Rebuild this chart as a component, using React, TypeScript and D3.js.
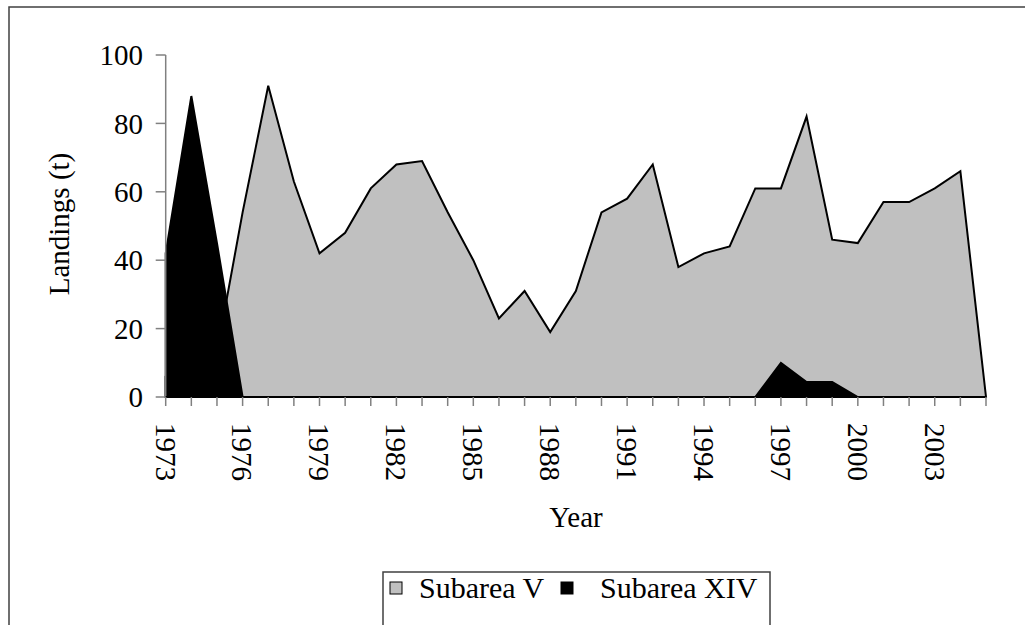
import React from "react";
import * as d3 from "d3";

const years: number[] = [
  1973, 1974, 1975, 1976, 1977, 1978, 1979, 1980, 1981, 1982, 1983, 1984, 1985,
  1986, 1987, 1988, 1989, 1990, 1991, 1992, 1993, 1994, 1995, 1996, 1997, 1998,
  1999, 2000, 2001, 2002, 2003, 2004, 2005,
];
const subareaV: number[] = [
  6, 10, 13, 54, 91, 63, 42, 48, 61, 68, 69, 54, 40, 23, 31, 19, 31, 54, 58, 68,
  38, 42, 44, 61, 61, 82, 46, 45, 57, 57, 61, 66, 0,
];
const subareaXIV: number[] = [
  42, 88, 45, 0, 0, 0, 0, 0, 0, 0, 0, 0, 0, 0, 0, 0, 0, 0, 0, 0, 0, 0, 0, 0, 10,
  4.4, 4.4, 0, 0, 0, 0, 0, 0,
];
const yTicks: number[] = [0, 20, 40, 60, 80, 100];
const xLabelYears: number[] = [1973, 1976, 1979, 1982, 1985, 1988, 1991, 1994, 1997, 2000, 2003];
const seriesNames: string[] = ["Subarea V", "Subarea XIV"];
const seriesColors: string[] = ["#c0c0c0", "#000000"];

const FONT = "'Liberation Serif', 'Times New Roman', serif";
const FS = 29;

export default function App() {
  const x = d3.scaleLinear().domain([1973, 2005]).range([165.7, 986]);
  const y = d3.scaleLinear().domain([0, 100]).range([397, 55]);

  const area = d3
    .area<[number, number]>()
    .x((d) => x(d[0]))
    .y0(y(0))
    .y1((d) => y(d[1]));

  const dataV: [number, number][] = years.map((yr, i) => [yr, subareaV[i]]);
  const dataXIV: [number, number][] = years.map((yr, i) => [yr, subareaXIV[i]]);

  return (
    <svg
      width={1025}
      height={625}
      style={{ position: "absolute", left: 0, top: 0, background: "#fff" }}
      fontFamily={FONT}
    >
      <rect x={9} y={7} width={1040} height={640} fill="#fff" stroke="#404040" strokeWidth={1.5} />

      {/* areas */}
      <path d={area(dataV) || ""} fill={seriesColors[0]} stroke="#000" strokeWidth={2} strokeLinejoin="miter" />
      <path d={area(dataXIV) || ""} fill={seriesColors[1]} stroke="#000" strokeWidth={2} />

      {/* y axis */}
      <line x1={x(1973)} x2={x(1973)} y1={y(100)} y2={y(0)} stroke="#808080" strokeWidth={1.5} />
      {yTicks.map((t) => (
        <g key={t}>
          <line x1={x(1973) - 10} x2={x(1973)} y1={y(t)} y2={y(t)} stroke="#808080" strokeWidth={1.5} />
          <text x={143} y={y(t)} dy="0.35em" textAnchor="end" fontSize={FS} fill="#000">
            {t}
          </text>
        </g>
      ))}

      {/* x axis */}
      <line x1={x(1973)} x2={x(2005)} y1={y(0)} y2={y(0)} stroke="#000" strokeWidth={2} />
      {years.map((yr) => (
        <line key={yr} x1={x(yr)} x2={x(yr)} y1={y(0)} y2={y(0) + 9} stroke="#808080" strokeWidth={1.5} />
      ))}
      {xLabelYears.map((yr) => (
        <text
          key={yr}
          transform={`translate(${x(yr)},${423}) rotate(90)`}
          dy="0.35em"
          textAnchor="start"
          fontSize={FS}
          fill="#000"
        >
          {yr}
        </text>
      ))}

      {/* axis titles */}
      <text x={576} y={527} textAnchor="middle" fontSize={FS} fill="#000">
        Year
      </text>
      <text transform={`translate(69,224) rotate(-90)`} textAnchor="middle" fontSize={FS} fill="#000">
        Landings (t)
      </text>

      {/* legend */}
      <rect x={383} y={572} width={387} height={80} fill="#fff" stroke="#404040" strokeWidth={1.5} />
      <rect x={390} y={582} width={12} height={12} fill={seriesColors[0]} stroke="#000" strokeWidth={1} />
      <text x={419} y={598} fontSize={30} fill="#000">
        {seriesNames[0]}
      </text>
      <rect x={561} y={582} width={12} height={12} fill={seriesColors[1]} stroke="#000" strokeWidth={1} />
      <text x={600} y={598} fontSize={30} fill="#000">
        {seriesNames[1]}
      </text>
    </svg>
  );
}
